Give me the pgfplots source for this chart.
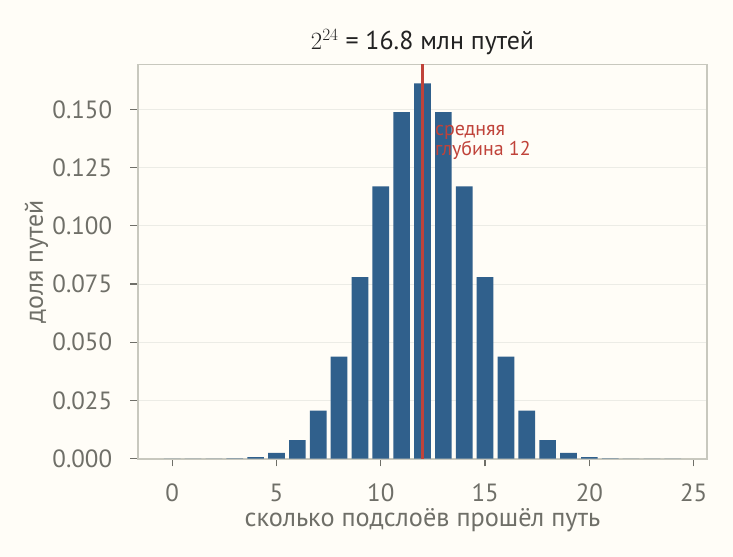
\documentclass[border=0pt]{standalone}
\usepackage{pgfplots}
\pgfplotsset{compat=1.18}
\usepackage{fontspec}
\setmainfont{PT Sans}
\definecolor{bg}{HTML}{FFFDF7}
\definecolor{spine}{HTML}{C8C8BE}
\definecolor{gridc}{HTML}{ECECE6}
\definecolor{tickc}{HTML}{6F6F68}
\definecolor{titlec}{HTML}{222222}
\definecolor{barblue}{HTML}{30608C}
\definecolor{redc}{HTML}{C0433A}
\begin{document}
\begin{tikzpicture}
\path[use as bounding box, fill=bg] (-138bp,-98.3bp) rectangle (595bp,458.7bp);
\begin{axis}[
  name=ax, at={(0,0)}, anchor=south west,
  scale only axis, width=569bp, height=394.2bp,
  xmin=-1.64, xmax=25.64, ymin=0, ymax=0.16924,
  axis line style={color=spine, line width=1.6bp},
  tick pos=left, tick align=outside,
  major tick length=7.7bp,
  tick style={color=tickc, line width=1.3bp},
  xtick={0,5,10,15,20,25},
  ytick={0,0.025,0.05,0.075,0.1,0.125,0.15},
  /pgf/number format/assume math mode=true,
  yticklabel={\pgfmathprintnumber[fixed,fixed zerofill,precision=3]{\tick}},
  scaled y ticks=false,
  ticklabel style={text=tickc, font=\fontsize{25}{30}\selectfont, inner sep=0pt},
  xticklabel style={anchor=north, yshift=-17.3bp},
  yticklabel style={anchor=east, xshift=-18bp},
  ymajorgrids, grid style={color=gridc, line width=0.8bp},
  minor tick num=0,
]
\addplot[ybar, bar width=0.8, bar shift=0pt, fill=barblue, draw=none] coordinates {
(0,0.0000000596) (1,0.00000143) (2,0.0000165) (3,0.000121) (4,0.000633)
(5,0.002533) (6,0.008022) (7,0.020629) (8,0.043837) (9,0.077933)
(10,0.116899) (11,0.148781) (12,0.161180) (13,0.148781) (14,0.116899)
(15,0.077933) (16,0.043837) (17,0.020629) (18,0.008022) (19,0.002533)
(20,0.000633) (21,0.000121) (22,0.0000165) (23,0.00000143) (24,0.0000000596)
};
\addplot[color=redc, line width=2.8bp] coordinates {(12,0) (12,0.16924)};
\node[anchor=base west, inner sep=0pt, text=redc, font=\fontsize{20}{24}\selectfont] at (axis cs:12.6,0.1387) {средняя};
\node[anchor=base west, inner sep=0pt, text=redc, font=\fontsize{20}{24}\selectfont] at (axis cs:12.6,0.1300) {глубина 12};
\end{axis}
\node[anchor=base, inner sep=0pt, text=titlec, font=\fontsize{26}{31}\selectfont] at (284.5bp,409.4bp) {$2^{24}$ = 16.8 млн путей};
\node[anchor=base, inner sep=0pt, text=tickc, font=\fontsize{26.4}{31}\selectfont] at (284.5bp,-67.3bp) {сколько подслоёв прошёл путь};
\node[anchor=base, rotate=90, inner sep=0pt, text=tickc, font=\fontsize{26}{31}\selectfont] at (-95bp,197.1bp) {доля путей};
\end{tikzpicture}
\end{document}
